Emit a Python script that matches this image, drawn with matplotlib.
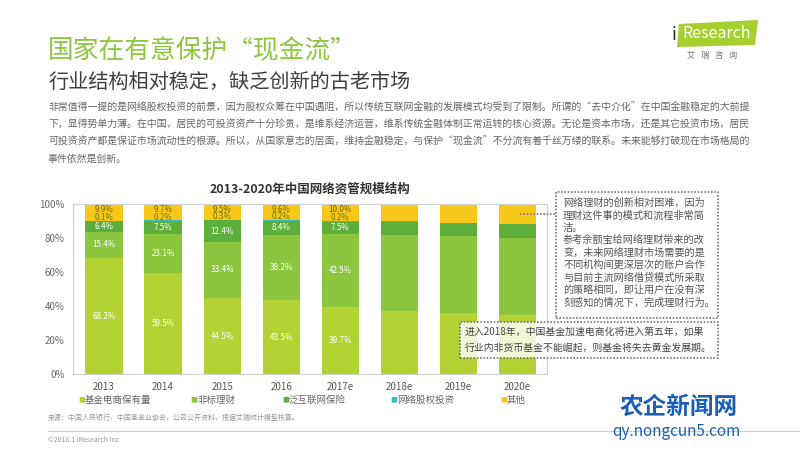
import matplotlib.pyplot as plt
from matplotlib.patches import Polygon, FancyBboxPatch
import numpy as np

plt.rcParams['font.family'] = ['Noto Sans CJK SC', 'DejaVu Sans']

years = ['2013', '2014', '2015', '2016', '2017e', '2018e', '2019e', '2020e']
fund_ecom = [68.2, 59.5, 44.5, 43.5, 39.7, 37.1, 35.7, 34.7]     # 基金电商保有量
nonstd = [15.4, 23.1, 33.4, 38.2, 42.5, 44.7, 45.5, 45.3]        # 非标理财
insurance = [6.4, 7.5, 12.4, 8.4, 7.5, 7.8, 7.6, 8.2]            # 泛互联网保险
equity = [0.1, 0.2, 0.3, 0.2, 0.2, 0.2, 0.2, 0.2]                # 网络股权投资
other = [9.9, 9.7, 9.5, 9.6, 10.0, 10.2, 10.8, 11.6]             # 其他
n_labeled = 5  # only 2013-2017e carry value labels

series_names = ['基金电商保有量', '非标理财', '泛互联网保险', '网络股权投资', '其他']
colors = ['#b3d334', '#8cc63e', '#5eae3c', '#3bb8c4', '#f7c81a']

fig = plt.figure(figsize=(8, 4.5), dpi=100)
fig.patch.set_facecolor('white')

# header
fig.text(0.06, 0.885, '国家在有意保护“现金流”', fontsize=18.5, color='#8dc63f', va='center')
fig.text(0.06, 0.818, '行业结构相对稳定，缺乏创新的古老市场', fontsize=14.5, color='#3f3f3f', va='center')

para = [
    '非常值得一提的是网络股权投资的前景，因为股权众筹在中国遇阻，所以传统互联网金融的发展模式均受到了限制。所谓的“去中介化”在中国金融稳定的大前提',
    '下，显得势单力薄。在中国，居民的可投资资产十分珍贵，是维系经济运营，维系传统金融体制正常运转的核心资源。无论是资本市场，还是其它投资市场，居民',
    '可投资资产都是保证市场流动性的根源。所以，从国家意志的层面，维持金融稳定，与保护“现金流”不分流有着千丝万缕的联系。未来能够打破现在市场格局的',
    '事件依然是创新。',
]
for i, line in enumerate(para):
    fig.text(0.06, 1 - (108 + i * 17) / 450, line, fontsize=7.15, color='#666666', va='center')

# logo
logo = Polygon([(679 / 800, 1 - 24 / 450), (758 / 800, 1 - 20 / 450),
                (755 / 800, 1 - 45 / 450), (677 / 800, 1 - 47 / 450)],
               closed=True, transform=fig.transFigure, facecolor='#a6cf2f', edgecolor='none')
fig.patches.append(logo)
fig.text(674 / 800, 1 - 35 / 450, 'i', fontsize=13, color='#333333', va='center', ha='center', style='italic')
fig.text(717 / 800, 1 - 34 / 450, 'Research', fontsize=11.5, color='white', va='center', ha='center')
fig.text(712 / 800, 1 - 55 / 450, '艾   瑞   咨   询', fontsize=6, color='#777777', va='center', ha='center')

# chart
ax = fig.add_axes([73 / 800, 1 - 374 / 450, (547 - 73) / 800, (374 - 204) / 450])
x = np.arange(len(years))
stack = [fund_ecom, nonstd, insurance, equity, other]
bottom = np.zeros(len(years))
for vals, c, name in zip(stack, colors, series_names):
    ax.bar(x, vals, bottom=bottom, width=0.63, color=c, label=name, zorder=2)
    bottom += np.array(vals)

# value labels (small ones squeezed near the top like the original)
lab = dict(ha='center', va='center', fontsize=5.8)
for k in range(n_labeled):
    ax.text(x[k], fund_ecom[k] / 2, f'{fund_ecom[k]:.1f}%', color='white', **lab)
    ax.text(x[k], fund_ecom[k] + nonstd[k] / 2, f'{nonstd[k]:.1f}%', color='white', **lab)
    b3 = fund_ecom[k] + nonstd[k]
    ax.text(x[k], b3 + insurance[k] / 2, f'{insurance[k]:.1f}%', color='white', **lab)
    ax.text(x[k], 100 - other[k] + 2.0, f'{equity[k]:.1f}%', color='#6a7a10', **lab)
    ax.text(x[k], 100 - 3.0, f'{other[k]:.1f}%', color='#7a6a00', **lab)

ax.set_xlim(-0.525, 7.5)
ax.set_ylim(0, 100)
ax.set_yticks(range(0, 101, 20))
ax.set_yticklabels([f'{v}%' for v in range(0, 101, 20)], fontsize=7, color='#666666')
ax.set_xticks(x)
ax.set_xticklabels(years, fontsize=7, color='#555555')
ax.tick_params(length=0, pad=6)
for s in ax.spines.values():
    s.set_color('#d0d0d0')
    s.set_linewidth(0.8)

ax.set_title('2013-2020年中国网络资管规模结构', fontsize=9, fontweight='bold', color='#333333', pad=8)

# legend
leg_x = [78, 190, 282, 390, 500]
for xx, c, name in zip(leg_x, colors, series_names):
    fig.text(xx / 800, 1 - 400 / 450, '■', fontsize=5, color=c, va='center')
    fig.text((xx + 7) / 800, 1 - 400 / 450, name, fontsize=6.8, color='#666666', va='center')

# callout 1
box1 = FancyBboxPatch((556 / 800, 1 - 318 / 450), 162 / 800, 126 / 450, boxstyle='square,pad=0',
                      transform=fig.transFigure, facecolor='white', edgecolor='#777777',
                      linestyle=(0, (1, 1)), linewidth=1.2)
fig.patches.append(box1)
note1 = ['网络理财的创新相对困难，因为', '理财这件事的模式和流程非常简', '洁。', '参考余额宝给网络理财带来的改',
         '变，未来网络理财市场需要的是', '不同机构间更深层次的账户合作', '与目前主流网络借贷模式所采取',
         '的策略相同，即让用户在没有深', '刻感知的情况下，完成理财行为。']
for i, line in enumerate(note1):
    fig.text(563 / 800, 1 - (203 + i * 12.4) / 450, line, fontsize=7.3, color='#555555', va='center')
fig.add_artist(plt.Line2D([520 / 800, 556 / 800], [1 - 214 / 450, 1 - 214 / 450],
                          transform=fig.transFigure, color='#777777', linestyle=(0, (1, 1)), linewidth=1.2))

# callout 2
box2 = FancyBboxPatch((460 / 800, 1 - 358 / 450), 258 / 800, 36 / 450, boxstyle='square,pad=0',
                      transform=fig.transFigure, facecolor='white', alpha=0.8, edgecolor='#555555',
                      linestyle=(0, (1, 1)), linewidth=1.2)
fig.patches.append(box2)
fig.text(465 / 800, 1 - 332 / 450, '进入2018年，中国基金加速电商化将进入第五年，如果', fontsize=7.1, color='#444444', va='center')
fig.text(465 / 800, 1 - 348 / 450, '行业内非货币基金不能崛起，则基金将失去黄金发展期。', fontsize=7.1, color='#444444', va='center')

# footer
fig.text(48 / 800, 1 - 418 / 450, '来源：中国人民银行，中国基金业协会，公司公开资料，根据艾瑞统计模型核算。',
         fontsize=5, color='#999999', va='center')
fig.add_artist(plt.Line2D([48 / 800, 1.0], [1 - 431 / 450, 1 - 431 / 450],
                          transform=fig.transFigure, color='#cccccc', linewidth=0.8))
fig.text(48 / 800, 1 - 440 / 450, '©2018.1 iResearch Inc', fontsize=5, color='#999999', va='center')

# watermark
fig.text(620 / 800, 1 - 407 / 450, '农企新闻网', fontsize=17, fontweight='bold', color='#1a5fb4', va='center')
fig.text(612 / 800, 1 - 432 / 450, 'qy.nongcun5.com', fontsize=11, color='#1a5fb4', va='center')

fig.savefig('out.png', dpi=100)
